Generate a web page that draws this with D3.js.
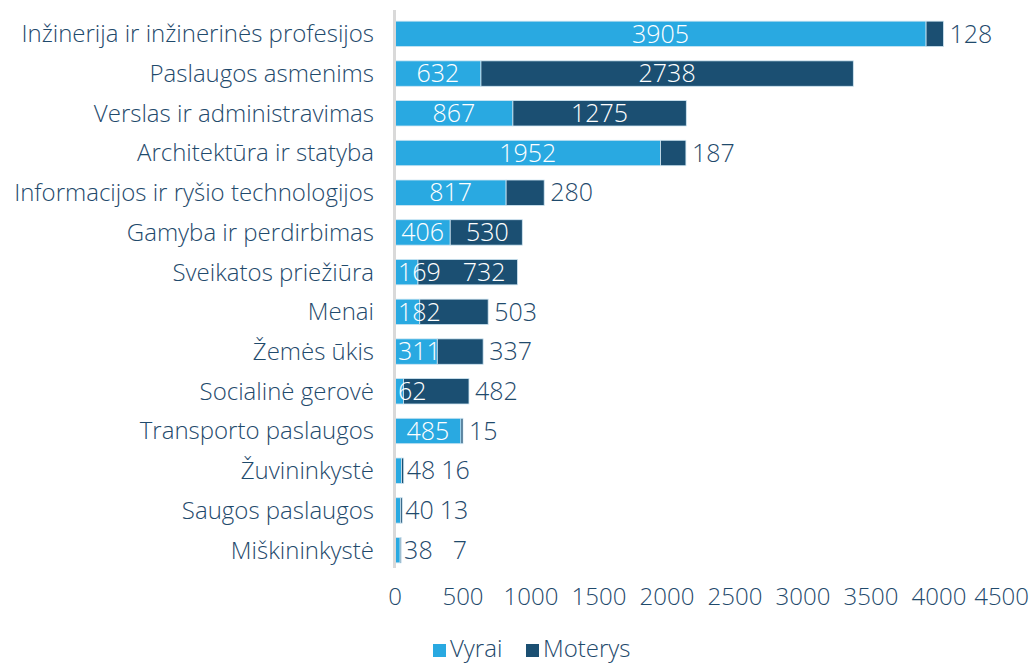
<!DOCTYPE html>
<html><head><meta charset="utf-8">
<script src="https://cdn.jsdelivr.net/npm/d3@7"></script>
<style>
body{margin:0;background:#fff;}
text{font-family:"Open Sans","Noto Sans",sans-serif;font-weight:300;}
</style></head>
<body><svg id="c" width="1035" height="664"></svg>
<script>
const categories = ["Inžinerija ir inžinerinės profesijos","Paslaugos asmenims","Verslas ir administravimas","Architektūra ir statyba","Informacijos ir ryšio technologijos","Gamyba ir perdirbimas","Sveikatos priežiūra","Menai","Žemės ūkis","Socialinė gerovė","Transporto paslaugos","Žuvininkystė","Saugos paslaugos","Miškininkystė"];
const vyrai = [3905,632,867,1952,817,406,169,182,311,62,485,48,40,38];
const moterys = [128,2738,1275,187,280,530,732,503,337,482,15,16,13,7];
const seriesNames = ["Vyrai","Moterys"];
const xTicks = [0,500,1000,1500,2000,2500,3000,3500,4000,4500];

const C_V = "#29a9e1", C_M = "#1b4f72", TXT = "#1f4a6c";
const svg = d3.select("#c");
const x = d3.scaleLinear().domain([0,4500]).range([395,1007]);
const y = d3.scaleBand().domain(categories).range([14,570]).paddingInner(0.36).paddingOuter(0.18);

const g = svg.append("g");
const fs = 25;
const rows = categories.map((c,i)=>({c,v:vyrai[i],m:moterys[i]}));
rows.forEach(r=>{
  const y0 = y(r.c), h = y.bandwidth(), cy = y0+h/2;
  const x0 = x(0), x1 = x(r.v), x2 = x(r.v+r.m);
  g.append("rect").attr("x",x0).attr("y",y0).attr("width",x1-x0).attr("height",h)
    .attr("fill",C_V).attr("stroke","#cfe6f3").attr("stroke-width",0.8);
  g.append("rect").attr("x",x1).attr("y",y0).attr("width",x2-x1).attr("height",h)
    .attr("fill",C_M).attr("stroke","#cfe6f3").attr("stroke-width",0.8);
  const mw = x2-x1;
  if (x2-x0 < 20) {
    g.append("text").attr("x",x2+3).attr("y",cy).attr("dy","0.35em").attr("font-size",fs)
      .attr("fill",TXT).text(r.v);
    g.append("text").attr("x",x2+66).attr("y",cy).attr("dy","0.35em").attr("font-size",fs)
      .attr("text-anchor","end").attr("fill",TXT).text(r.m);
    return;
  }
  const tv = g.append("text").attr("y",cy).attr("dy","0.35em").attr("font-size",fs)
    .attr("fill","#fff").attr("text-anchor","middle").text(r.v);
  const wv = tv.node().getComputedTextLength();
  const cxv = Math.max((x0+x1)/2, x0+3+wv/2);
  tv.attr("x", cxv);
  if (mw > 70) {
    const tm = g.append("text").attr("y",cy).attr("dy","0.35em").attr("font-size",fs)
      .attr("fill","#fff").attr("text-anchor","middle").text(r.m);
    const wm = tm.node().getComputedTextLength();
    tm.attr("x", Math.max((x1+x2)/2, cxv+wv/2+22+wm/2));
  } else {
    g.append("text").attr("x",x2+6).attr("y",cy).attr("dy","0.35em").attr("font-size",fs)
      .attr("fill",TXT).text(r.m);
  }
});

// axis line
svg.append("line").attr("x1",394.5).attr("x2",394.5).attr("y1",10).attr("y2",568)
  .attr("stroke","#d9d9d9").attr("stroke-width",3);

// category labels
svg.append("g").selectAll("text").data(categories).join("text")
  .attr("x",374).attr("y",d=>y(d)+y.bandwidth()/2).attr("dy","0.35em")
  .attr("text-anchor","end").attr("font-size",24).attr("fill",TXT).text(d=>d);

// x axis tick labels
svg.append("g").selectAll("text").data(xTicks).join("text")
  .attr("y",605).attr("text-anchor","middle")
  .attr("font-size",24).attr("fill",TXT).text(d=>d)
  .each(function(d){
    const w = this.getComputedTextLength();
    d3.select(this).attr("x", Math.min(x(d), 1029 - w/2));
  });

// legend
const leg = svg.append("g");
const legX = [433, 526];
seriesNames.forEach((s,i)=>{
  leg.append("rect").attr("x",legX[i]).attr("y",644).attr("width",13).attr("height",13)
    .attr("fill",i?C_M:C_V);
  leg.append("text").attr("x",legX[i]+17).attr("y",657)
    .attr("font-size",24).attr("fill",TXT).text(s);
});
</script></body></html>
